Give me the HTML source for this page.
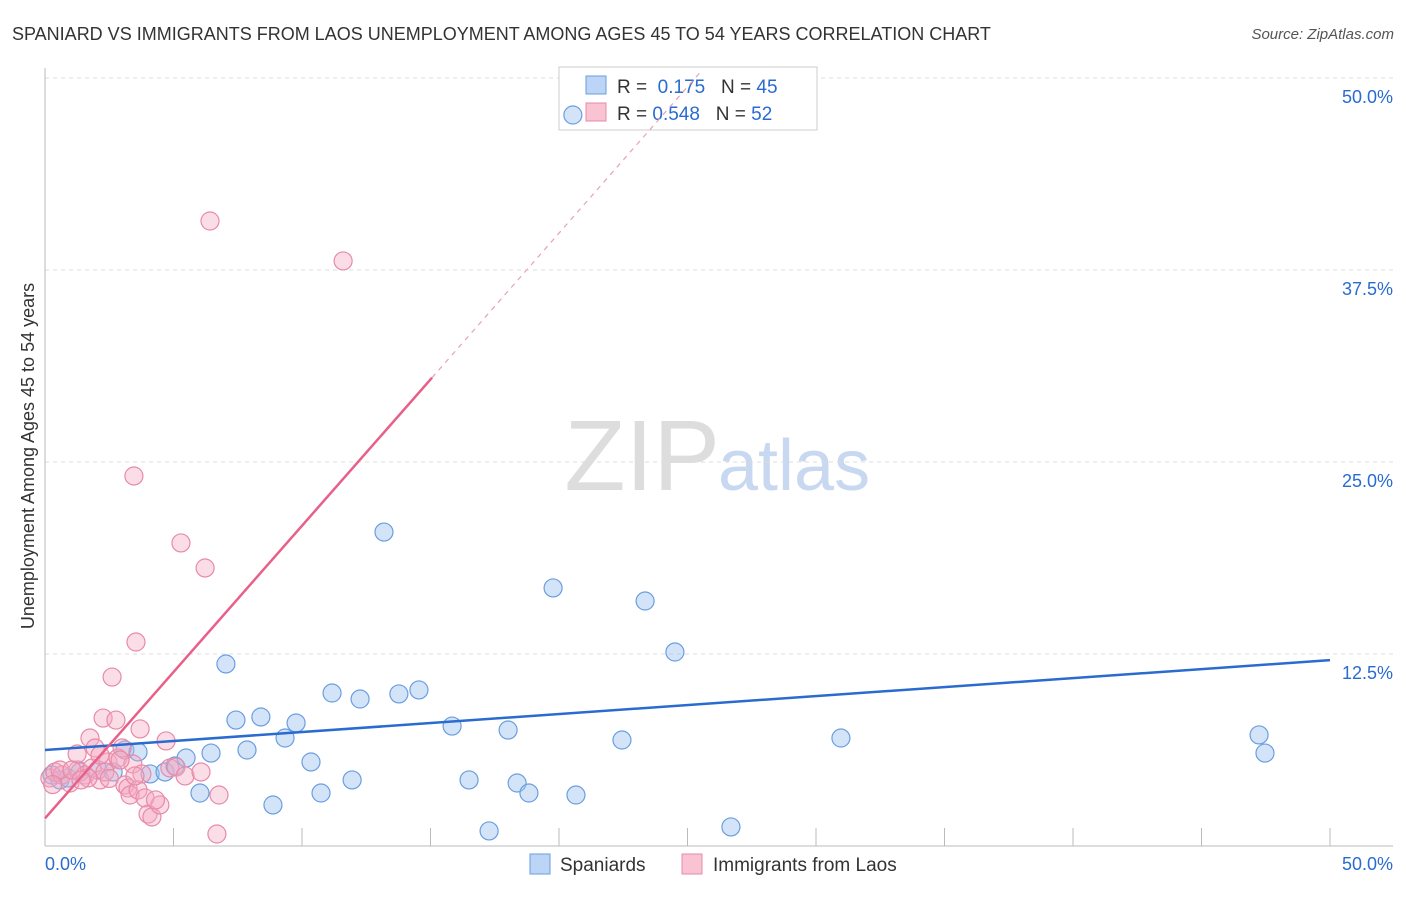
<!DOCTYPE html>
<html><head><meta charset="utf-8"><style>
body{margin:0;background:#fff;font-family:"Liberation Sans",sans-serif;}
svg text{font-family:"Liberation Sans",sans-serif;}
</style></head><body>
<svg id="c" width="1406" height="892">
<text x="12" y="40" font-size="18" fill="#333">SPANIARD VS IMMIGRANTS FROM LAOS UNEMPLOYMENT AMONG AGES 45 TO 54 YEARS CORRELATION CHART</text>
<text x="1394" y="39" font-size="15" fill="#555" font-style="italic" text-anchor="end">Source: ZipAtlas.com</text>
<text x="720" y="490" font-size="100" fill="#ddd" text-anchor="end" font-family="Liberation Serif">ZIP</text>
<text x="718" y="490" font-size="72" fill="#c8d8f0">atlas</text>
<text transform="translate(34,456) rotate(-90)" font-size="18" fill="#333" text-anchor="middle">Unemployment Among Ages 45 to 54 years</text>
<g id="grid"></g>
<g>
<rect x="559" y="67" width="258" height="63" fill="#fff" stroke="#ccc"/>
<rect x="586" y="76" width="20" height="18" fill="#bcd4f5" stroke="#6a9ee0"/>
<rect x="586" y="103" width="20" height="18" fill="#f8c3d3" stroke="#e88aa8"/>
<text x="617" y="93" font-size="19" fill="#333">R = <tspan fill="#2a6bd0">&#160;0.175</tspan>&#160;&#160;&#160;N = <tspan fill="#2a6bd0">45</tspan></text>
<text x="617" y="120" font-size="19" fill="#333">R = <tspan fill="#2a6bd0">0.548</tspan>&#160;&#160;&#160;N = <tspan fill="#2a6bd0">52</tspan></text>
</g>
<g id="pts"></g><g id="lines"></g>
<g>
<rect x="530" y="854" width="20" height="20" fill="#bcd4f5" stroke="#6a9ee0"/>
<text x="560" y="871" font-size="19" fill="#333">Spaniards</text>
<rect x="682" y="854" width="20" height="20" fill="#f8c3d3" stroke="#e88aa8"/>
<text x="713" y="871" font-size="19" fill="#333">Immigrants from Laos</text>
</g>
</svg>
<script>
const yTicks=[12.5,25,37.5,50];
const yTickLabels=["12.5%","25.0%","37.5%","50.0%"];
const xTicks=[0,5,10,15,20,25,30,35,40,45,50];
const blueX=[0.27,0.58,0.89,1.36,2.06,2.65,3.11,3.62,4.09,4.67,5.06,5.49,6.03,6.46,7.04,7.43,7.86,8.40,8.87,9.34,9.77,10.35,10.74,11.17,11.95,12.26,13.19,13.77,14.55,15.84,16.50,17.28,18.02,18.37,18.83,19.77,20.66,22.45,23.35,24.51,26.69,30.97,47.24,47.47,20.54];
const blueY=[4.62,4.30,4.43,4.82,4.95,4.82,6.25,6.12,4.69,4.82,5.21,5.73,3.45,6.05,11.85,8.20,6.25,8.40,2.67,7.03,8.01,5.47,3.45,9.96,4.30,9.57,20.44,9.90,10.16,7.81,4.30,0.98,7.55,4.10,3.45,16.80,3.32,6.90,15.95,12.63,1.24,7.03,7.23,6.05,47.59];
const pinkX=[0.19,0.39,0.66,0.97,1.28,1.56,1.83,1.25,1.75,1.95,2.26,2.45,2.61,2.76,2.84,3.00,3.11,3.23,3.31,3.42,3.54,3.62,3.70,3.77,3.89,4.01,4.16,4.47,4.71,4.86,5.10,5.29,5.45,6.07,6.23,6.42,6.69,6.77,3.46,11.60,2.14,0.58,1.05,1.67,2.33,3.50,2.92,2.14,0.3,1.4,2.5,4.3];
const pinkY=[4.43,4.82,4.62,4.10,4.95,4.62,5.08,5.99,7.03,6.38,8.33,5.47,11.00,8.20,5.73,6.38,3.97,3.78,3.32,5.34,13.28,3.65,7.62,4.69,3.13,2.08,1.89,2.67,6.84,5.08,5.14,19.73,4.56,4.82,18.10,40.69,0.78,3.32,24.09,38.09,4.30,4.95,4.95,4.43,4.82,4.56,5.60,5.92,4.0,4.3,4.4,3.0];
const blueLine=[6.25,12.1];
const pinkLine=[1.8,1.905];
const X=v=>45+v*25.7, Y=v=>846-v*15.36;
const NS="http://www.w3.org/2000/svg";
function mk(t,a,p){const e=document.createElementNS(NS,t);for(const k in a)e.setAttribute(k,a[k]);p.appendChild(e);return e;}
const g=document.getElementById('grid');
yTicks.forEach((t,i)=>{
 const l=mk('line',{x1:45,x2:1393,y1:Y(t),y2:Y(t),stroke:'#ddd','stroke-dasharray':'4,4'},g);
 
 
 const tx=mk('text',{x:1393,y:Y(t)+25,'font-size':18,fill:'#2a6bd0','text-anchor':'end'},g);tx.textContent=yTickLabels[i];
 
 
});
xTicks.forEach(t=>{const l=mk('line',{x1:X(t),x2:X(t),y1:828,y2:846,stroke:'#bbb'},g);
 
 });
mk('line',{x1:45,x2:45,y1:68,y2:846,stroke:'#bbb'},g);
mk('line',{x1:45,x2:1393,y1:846,y2:846,stroke:'#bbb'},g);
let t0=mk('text',{x:45,y:870,'font-size':18,fill:'#2a6bd0'},g);t0.textContent='0.0%';


let t1=mk('text',{x:1393,y:870,'font-size':18,fill:'#2a6bd0','text-anchor':'end'},g);t1.textContent='50.0%';


const p=document.getElementById('pts');
blueX.forEach((x,i)=>{const c=mk('circle',{cx:X(x),cy:Y(blueY[i]),r:9,fill:'rgba(160,196,240,0.45)',stroke:'#6a9ee0','stroke-width':1.2},p);
 
 });
pinkX.forEach((x,i)=>{const c=mk('circle',{cx:X(x),cy:Y(pinkY[i]),r:9,fill:'rgba(245,170,195,0.4)',stroke:'#e88aa8','stroke-width':1.2},p);
 
 });
const L=document.getElementById('lines');
let bl=mk('line',{x1:X(0),y1:Y(blueLine[0]),x2:X(50),y2:Y(blueLine[1]),stroke:'#2a6bd0','stroke-width':2.5},L);


const pe=15.06, pd=(50.5-pinkLine[0])/pinkLine[1];
let pl=mk('line',{x1:X(0),y1:Y(pinkLine[0]),x2:X(pe),y2:Y(pinkLine[0]+pinkLine[1]*pe),stroke:'#e8608a','stroke-width':2.5},L);


let pdl=mk('line',{x1:X(pe),y1:Y(pinkLine[0]+pinkLine[1]*pe),x2:X(pd),y2:Y(pinkLine[0]+pinkLine[1]*pd),stroke:'#e8a0b8','stroke-width':1.2,'stroke-dasharray':'5,5'},L);


</script>
</body></html>
